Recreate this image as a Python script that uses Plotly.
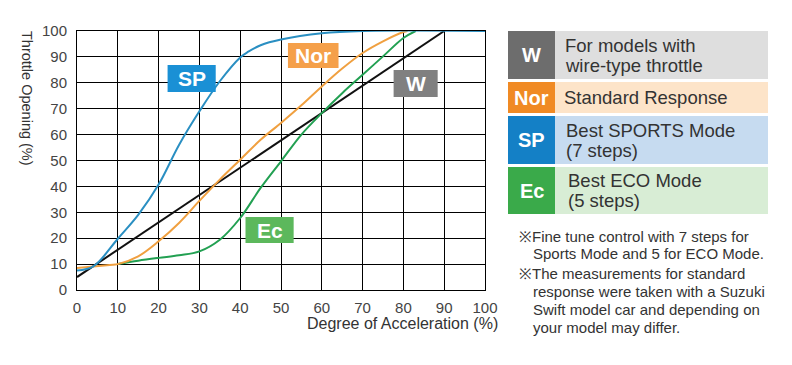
import plotly.graph_objects as go

# ---------------- data ----------------
sp_x = [0, 4, 10, 15, 20, 25, 30, 35, 40, 42, 45, 50, 60, 70, 100]
sp_y = [7.5, 9.1, 19.8, 29, 40.7, 56, 69, 80.6, 89.8, 92, 94.5, 96.7, 99.1, 100, 100]

nor_x = [0, 8, 10, 15, 20, 25, 30, 35, 40, 45, 50, 55, 60, 65, 70, 75, 80, 81]
nor_y = [8.5, 9.7, 10, 13, 18.8, 25.9, 34.4, 42.6, 50.3, 58, 64.5, 71.3, 78.6, 85.5, 91.5, 96, 99.6, 100]

ec_x = [10, 15, 20, 25, 30, 35, 40, 45, 50, 55, 60, 65, 70, 75, 80, 83]
ec_y = [10, 11.3, 12.4, 13.4, 14.9, 19.4, 27.8, 39.4, 49.7, 60, 68.3, 76, 83.1, 90.2, 97.3, 100]

w_x = [0, 90]
w_y = [5, 100]

tick_vals = list(range(0, 101, 10))
tick_text = [str(v) for v in tick_vals]

x_title = "Degree of Acceleration (%)"
y_title = "Throttle Opening (%)"

# chart labels: (text, x0, x1, y0, y1, colour)
chart_labels = [
    ("SP", 22.2, 34.0, 76.4, 86.9, "#1a90d5"),
    ("Nor", 51.7, 64.1, 85.7, 95.4, "#f5a04a"),
    ("W", 77.6, 88.4, 74.5, 84.9, "#808080"),
    ("Ec", 41.3, 53.1, 18.1, 28.2, "#5cb85c"),
]

legend_keys = ["W", "Nor", "SP", "Ec"]
legend_lines = [
    ["For models with", "wire-type throttle"],
    ["Standard Response"],
    ["Best SPORTS Mode", "(7 steps)"],
    ["Best ECO Mode", "(5 steps)"],
]
notes = [
    ("※Fine tune control with 7 steps for", True),
    ("Sports Mode and 5 for ECO Mode.", False),
    ("※The measurements for standard", True),
    ("response were taken with a Suzuki", False),
    ("Swift model car and depending on", False),
    ("your model may differ.", False),
]

# ---------------- layout helpers ----------------
L, R, T, B = 77, 485, 31, 290
W, H = 792, 365


def px(x):
    return (x - L) / (R - L)


def py(y):
    return (B - y) / (B - T)


FONT = "Liberation Sans, Arial, sans-serif"

fig = go.Figure()
fig.add_trace(go.Scatter(x=w_x, y=w_y, mode="lines", line=dict(color="#111111", width=2), name="W"))
fig.add_trace(go.Scatter(x=ec_x, y=ec_y, mode="lines", line=dict(color="#22a052", width=2, shape="spline"), name="Ec"))
fig.add_trace(go.Scatter(x=nor_x, y=nor_y, mode="lines", line=dict(color="#f0a040", width=2, shape="spline"), name="Nor"))
fig.add_trace(go.Scatter(x=sp_x, y=sp_y, mode="lines", line=dict(color="#2a8fc2", width=2, shape="spline"), name="SP"))

shapes = []
annotations = []

for text, x0, x1, y0, y1, col in chart_labels:
    shapes.append(dict(type="rect", xref="x", yref="y", x0=x0, x1=x1, y0=y0, y1=y1,
                       fillcolor=col, line=dict(width=0), layer="above"))
    annotations.append(dict(x=(x0 + x1) / 2, y=(y0 + y1) / 2, xref="x", yref="y", text="<b>%s</b>" % text,
                            showarrow=False, font=dict(family=FONT, size=21, color="white"),
                            xanchor="center", yanchor="middle"))

# legend panel on the right
rows = [(31, 79), (82, 113), (116, 164), (167, 214)]
sq_cols = ["#6d6d6d", "#f08a24", "#1480c6", "#3aaa4a"]
pan_cols = ["#dedede", "#fde4c9", "#c6dbf0", "#d8edd5"]
text_x = [563, 562, 564, 566]
for (ya, yb), key, lines, sc, pc, tx in zip(rows, legend_keys, legend_lines, sq_cols, pan_cols, text_x):
    shapes.append(dict(type="rect", xref="paper", yref="paper", x0=px(508), x1=px(555), y0=py(yb), y1=py(ya),
                       fillcolor=sc, line=dict(width=0)))
    shapes.append(dict(type="rect", xref="paper", yref="paper", x0=px(555), x1=px(768), y0=py(yb), y1=py(ya),
                       fillcolor=pc, line=dict(width=0)))
    annotations.append(dict(x=px(531.5), y=py((ya + yb) / 2), xref="paper", yref="paper",
                            text="<b>%s</b>" % key, showarrow=False,
                            font=dict(family=FONT, size=20, color="white"),
                            xanchor="center", yanchor="middle"))
    mid = (ya + yb) / 2
    n = len(lines)
    for i, ln in enumerate(lines):
        yy = mid + (i - (n - 1) / 2) * 20
        annotations.append(dict(x=px(tx), y=py(yy), xref="paper", yref="paper", text=ln,
                                showarrow=False, font=dict(family=FONT, size=18.5, color="#333333"),
                                xanchor="left", yanchor="middle"))

note_y = [236, 253, 273, 291, 309, 327]
for (ln, star), yy in zip(notes, note_y):
    annotations.append(dict(x=px(517 if star else 531), y=py(yy), xref="paper", yref="paper", text=ln,
                            showarrow=False, font=dict(family=FONT, size=15, color="#333333"),
                            xanchor="left", yanchor="middle"))

# axis titles
annotations.append(dict(x=px(500), y=py(323), xref="paper", yref="paper", text=x_title, showarrow=False,
                        font=dict(family=FONT, size=16, color="#333333"), xanchor="right", yanchor="middle"))
annotations.append(dict(x=px(27), y=py(98), xref="paper", yref="paper", text=y_title, showarrow=False,
                        textangle=90, font=dict(family=FONT, size=14.5, color="#333333"),
                        xanchor="center", yanchor="middle"))

axis_common = dict(range=[0, 100], tickvals=tick_vals, ticktext=tick_text, showgrid=True, gridcolor="#000000",
                   gridwidth=1, zeroline=False, showline=True, linecolor="#000000", linewidth=1, mirror=True,
                   ticks="", tickfont=dict(family=FONT, size=15, color="#444444"), fixedrange=True)

fig.update_layout(
    width=W, height=H, autosize=False,
    margin=dict(l=L, r=W - R, t=T, b=H - B, pad=0),
    paper_bgcolor="white", plot_bgcolor="white",
    showlegend=False,
    xaxis=dict(**axis_common, ticklabelstandoff=4),
    yaxis=dict(**axis_common, ticklabelstandoff=6),
    shapes=shapes, annotations=annotations,
    font=dict(family=FONT),
)

fig.write_html("out.html", config={"displayModeBar": False},
               post_script="document.body.style.margin='0';document.body.style.padding='0';")
